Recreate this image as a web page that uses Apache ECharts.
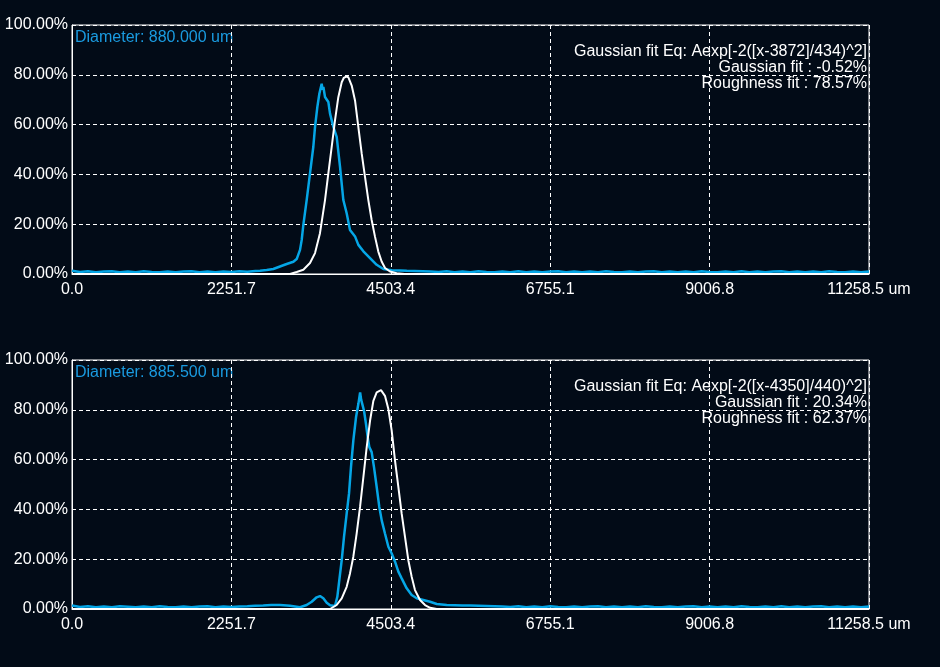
<!DOCTYPE html>
<html>
<head>
<meta charset="utf-8">
<title>Diameter profile</title>
<script src="https://cdn.jsdelivr.net/npm/echarts@6/dist/echarts.min.js"></script>
<style>
  html, body { margin: 0; padding: 0; background: #020b17; }
  #chart { width: 940px; height: 667px; }
</style>
</head>
<body>
<div id="chart"></div>
<script>
// Axis settings (um on x, percent on y)
const X_MAX = 11258.5;
const X_STEP = 2251.7;
// spacing of the flat baseline samples (100 steps across the axis)
const BASE_STEP = 112.585;

// ---- Top profile (Diameter 880.000 um) ----
const topBaseLeft = [1.3, 0.8, 1.1, 0.7, 1.0, 1.1, 0.7, 1.0, 0.7, 1.1, 0.8, 0.7, 1.0, 0.7, 1.0, 1.1,
  0.7, 1.0, 0.7, 1.0, 0.8, 1.1, 0.9, 1.2];
const topPeakX = [2656, 2750, 2844, 2938, 3033, 3127, 3174, 3221, 3245, 3268, 3315, 3362, 3409, 3433,
  3466, 3494, 3527, 3540, 3551, 3574, 3598, 3621, 3645, 3692, 3739, 3786, 3833, 3880, 3927, 3960,
  3998, 4045, 4116, 4210, 4304, 4398, 4516, 4634];
const topPeakY = [1.3, 1.6, 2.0, 3.0, 4.0, 4.9, 6.0, 9.7, 13.7, 19.7, 29.7, 40.4, 51.1, 59.1,
  67.1, 72.4, 76.4, 74.0, 75.1, 71.1, 70.5, 69.1, 64.4, 59.1, 55.1, 43.1, 29.7, 24.4, 17.7, 16.5,
  15.1, 11.7, 9.1, 6.4, 3.7, 2.0, 1.5, 1.4];
const topBaseRight = [1.3, 1.2, 1.1, 1.0, 0.8, 1.1, 0.7, 1.0, 0.7, 1.1,
  0.8, 0.7, 1.0, 0.7, 1.1, 0.7, 1.0, 0.7, 1.0, 1.1,
  0.7, 1.0, 0.7, 1.0, 0.7, 1.1, 0.8, 0.7, 1.0, 0.7,
  1.0, 1.1, 0.7, 1.0, 0.7, 1.0, 0.7, 1.1, 0.8, 0.7,
  1.0, 0.7, 1.1, 0.7, 1.0, 0.7, 1.0, 1.1, 0.7, 1.0,
  0.7, 1.0, 0.7, 1.1, 0.8, 0.7, 1.0, 0.7, 1.0];
const topFitX = [0, 3080, 3174, 3268, 3362, 3433, 3503, 3574, 3621, 3668, 3715, 3762, 3810, 3840,
  3871, 3904, 3951, 3998, 4045, 4092, 4139, 4186, 4233, 4280, 4327, 4374, 4422, 4492, 4586, 4700, 11258.5];
const topFitY = [0, 0, 0.8, 1.7, 4.4, 8.4, 16.4, 29.7, 40.4, 51.0, 61.7, 71.0, 77.0, 78.8,
  79.3, 79.0, 75.7, 69.7, 59.0, 48.4, 39.0, 29.7, 21.7, 15.0, 9.0, 5.0, 2.4, 1.0, 0.3, 0, 0];
const topText = {
  diameter: 'Diameter: 880.000 um',
  lines: ['Gaussian fit Eq: Aexp[-2([x-3872]/434)^2]', 'Gaussian fit : -0.52%', 'Roughness fit : 78.57%']
};

// ---- Bottom profile (Diameter 885.500 um) ----
const botBaseLeft = [1.4, 0.8, 1.1, 0.7, 1.0, 0.7, 1.1, 0.9, 0.7, 1.0,
  0.7, 1.1, 0.8, 0.7, 1.0, 0.7, 1.0, 1.1, 0.7, 1.0,
  0.8, 1.0, 1.1, 1.3, 1.4, 1.6];
const botPeakX = [2938, 3080, 3221, 3315, 3386, 3456, 3503, 3550, 3598, 3645, 3715, 3748, 3776, 3810,
  3842, 3880, 3913, 3941, 3974, 4012, 4045, 4070, 4085, 4101, 4125, 4153, 4177, 4200, 4233, 4266,
  4304, 4341, 4375, 4421, 4469, 4516, 4563, 4610, 4657, 4728, 4798, 4869, 4963, 5058, 5152, 5293];
const botPeakY = [1.6, 1.3, 0.7, 1.6, 2.9, 4.7, 5.2, 4.3, 2.5, 1.5, 1.2, 4.9, 11.6, 19.6,
  28.9, 38.3, 46.3, 57.0, 67.6, 77.0, 82.3, 87.0, 84.0, 82.3, 79.6, 74.3, 69.0, 65.0, 63.0, 57.0,
  49.0, 41.0, 35.6, 30.3, 25.0, 22.3, 19.0, 15.0, 12.3, 8.3, 5.6, 4.3, 3.6, 2.9, 2.0, 1.6];
const botBaseRight = [1.5, 1.4, 1.4, 1.3, 1.2, 1.1, 1.0, 0.8, 1.1, 0.7,
  1.0, 0.7, 1.1, 0.8, 0.7, 1.0, 0.7, 1.0, 1.1, 0.7,
  1.0, 0.7, 1.0, 0.7, 1.1, 0.8, 0.7, 1.0, 0.7, 1.0,
  1.1, 0.7, 1.0, 0.7, 1.0, 0.7, 1.1, 0.8, 0.7, 1.0,
  0.7, 1.1, 0.7, 1.0, 0.7, 1.0, 1.1, 0.7, 1.0, 0.7,
  1.0, 0.7, 1.0];
const botFitX = [0, 3645, 3739, 3810, 3880, 3927, 3974, 4021, 4069, 4116, 4163, 4210, 4257, 4304,
  4365, 4421, 4469, 4516, 4563, 4610, 4657, 4704, 4751, 4798, 4845, 4916, 4987, 5058, 5152, 11258.5];
const botFitY = [0, 0, 1.6, 4.3, 8.9, 14.3, 21.0, 30.3, 41.0, 53.0, 65.0, 75.6, 83.6, 87.0,
  87.9, 85.6, 80.3, 71.6, 59.6, 49.0, 38.3, 29.0, 19.6, 13.0, 7.6, 3.6, 1.6, 0.5, 0, 0];
const botText = {
  diameter: 'Diameter: 885.500 um',
  lines: ['Gaussian fit Eq: Aexp[-2([x-4350]/440)^2]', 'Gaussian fit : 20.34%', 'Roughness fit : 62.37%']
};

const BLUE = '#05a6e6';
const FONT = '"Liberation Sans", Arial, sans-serif';
const FONT_SIZE = 16;

function pairs(xs, ys) {
  return xs.map((x, i) => [x, ys[i]]);
}

function baseline(startIndex, ys) {
  return ys.map((y, i) => [(startIndex + i) * BASE_STEP, y]);
}

function measured(left, peakX, peakY, rightStart, right) {
  return baseline(0, left).concat(pairs(peakX, peakY), baseline(rightStart, right));
}

const gridLine = { color: '#ffffff', width: 1, type: [4, 3] };

function makeXAxis(gridIndex) {
  return {
    type: 'value', gridIndex: gridIndex, min: 0, max: X_MAX, interval: X_STEP,
    axisLine: { show: true, lineStyle: { color: '#ffffff', width: 1 } },
    axisTick: { show: false },
    splitLine: { show: true, lineStyle: gridLine },
    axisLabel: {
      color: '#ffffff', fontSize: FONT_SIZE, fontFamily: FONT, margin: 8,
      showMinLabel: true, showMaxLabel: true,
      formatter: v => Math.abs(v - X_MAX) < 0.05 ? v.toFixed(1) + ' um' : v.toFixed(1)
    }
  };
}

function makeYAxis(gridIndex) {
  return {
    type: 'value', gridIndex: gridIndex, min: 0, max: 100, interval: 20,
    axisLine: { show: true, lineStyle: { color: '#ffffff', width: 1 } },
    axisTick: { show: false },
    splitLine: { show: true, lineStyle: gridLine },
    axisLabel: {
      color: '#ffffff', fontSize: FONT_SIZE, fontFamily: FONT, margin: 4,
      formatter: v => v.toFixed(2) + '%'
    }
  };
}

function lineSeries(index, data, color, width) {
  return {
    type: 'line', xAxisIndex: index, yAxisIndex: index, data: data,
    showSymbol: false, symbol: 'none', smooth: false,
    lineStyle: { color: color, width: width }, emphasis: { disabled: true }
  };
}

function labels(text, top) {
  const items = [{
    type: 'text', left: 75, top: top,
    style: { text: text.diameter, fill: '#1a9be0', font: FONT_SIZE + 'px ' + FONT }
  }];
  text.lines.forEach((line, i) => {
    items.push({
      type: 'text', right: 73, top: top + 14 + i * 16,
      style: { text: line, fill: '#ffffff', font: FONT_SIZE + 'px ' + FONT, textAlign: 'right' }
    });
  });
  return items;
}

const chart = echarts.init(document.getElementById('chart'), null, { renderer: 'canvas' });

chart.setOption({
  backgroundColor: '#020b17',
  animation: false,
  grid: [
    { left: 72, top: 25, width: 797, height: 249, show: true, borderColor: '#ffffff', borderWidth: 1 },
    { left: 72, top: 360, width: 797, height: 249, show: true, borderColor: '#ffffff', borderWidth: 1 }
  ],
  xAxis: [makeXAxis(0), makeXAxis(1)],
  yAxis: [makeYAxis(0), makeYAxis(1)],
  series: [
    lineSeries(0, measured(topBaseLeft, topPeakX, topPeakY, 42, topBaseRight), BLUE, 2.5),
    lineSeries(0, pairs(topFitX, topFitY), '#ffffff', 2),
    lineSeries(1, measured(botBaseLeft, botPeakX, botPeakY, 48, botBaseRight), BLUE, 2.5),
    lineSeries(1, pairs(botFitX, botFitY), '#ffffff', 2)
  ],
  graphic: labels(topText, 30).concat(labels(botText, 365))
});
</script>
</body>
</html>
